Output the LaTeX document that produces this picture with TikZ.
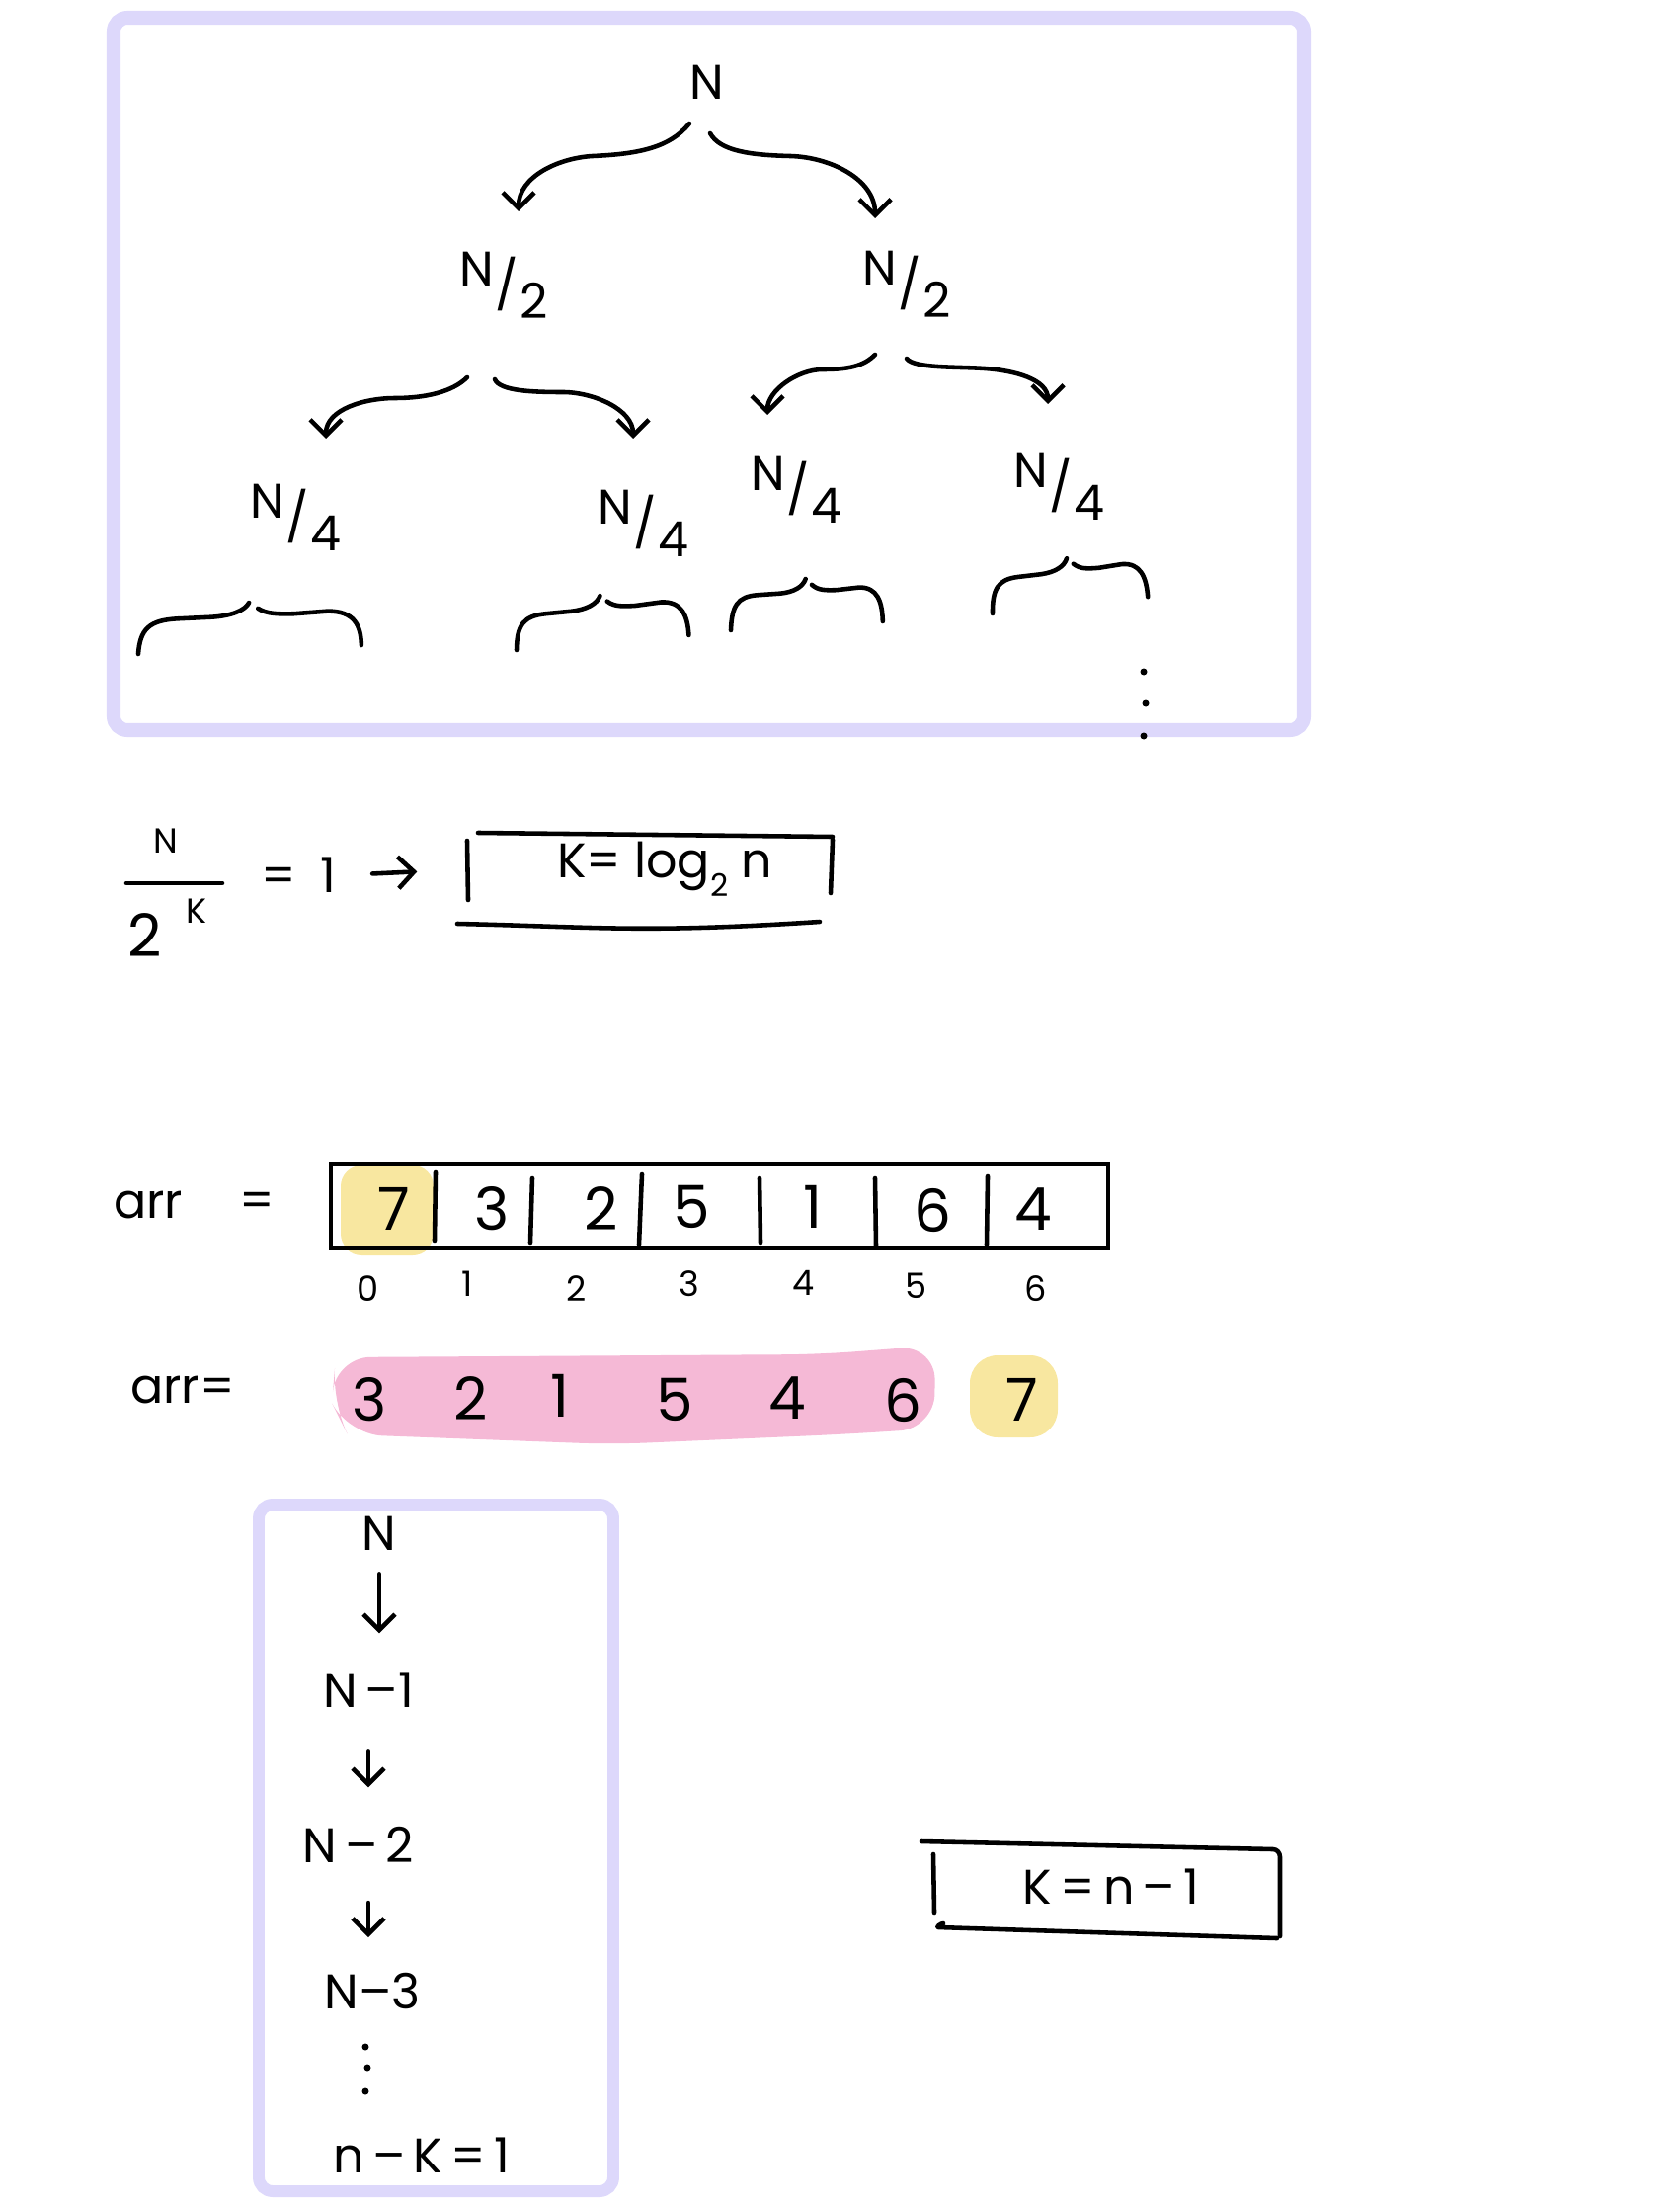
\documentclass[tikz,border=0pt]{standalone}
\usepackage{fontspec}
\setmainfont{Poppins}
\usepackage{xcolor}
\usepackage{tikz}
\usetikzlibrary{arrows.meta,positioning}
\definecolor{lav}{RGB}{221,216,251}
\definecolor{hlyellow}{RGB}{248,231,160}
\definecolor{hlpink}{RGB}{245,185,214}
\newcommand{\slfrac}[2]{\raisebox{.6ex}{#1}\kern.03em/\kern.03em\raisebox{-.6ex}{#2}}
% hand drawn brace: left end x, y, width, tilt
\newcommand{\handbrace}[4]{%
  \begin{scope}[shift={(#1,#2)}, rotate=#4, xscale=#3]
    \draw[hand] (0,0) .. controls (0.01,0.25) and (0.05,0.34) .. (0.18,0.35) -- (0.33,0.36) .. controls (0.42,0.37) and (0.48,0.42) .. (0.5,0.5);
    \draw[hand] (0.54,0.44) .. controls (0.58,0.38) and (0.63,0.38) .. (0.70,0.38) -- (0.85,0.40) .. controls (0.97,0.40) and (1.0,0.25) .. (1.0,0.05);
  \end{scope}}

\begin{document}
\begin{tikzpicture}[
    hand/.style={line width=1.3pt, line cap=round, line join=round},
    arr/.style={hand, -{Straight Barb[length=1.6mm,width=3.2mm]}},
    lbl/.style={inner sep=1pt, font=\fontsize{14}{17}\selectfont},
    small/.style={inner sep=1pt, font=\fontsize{10}{12}\selectfont},
    big/.style={inner sep=1pt, font=\fontsize{17}{20}\selectfont},
    frame/.style={draw=lav, line width=4pt, rounded corners=4pt}
  ]
  \useasboundingbox (0,0) rectangle (17,-22.32);

  % recursion tree
  \draw[frame] (1.15,-0.18) rectangle (13.20,-7.39);
  \node[lbl] (root) at (7.16,-0.83) {N};
  \node[lbl] (h1) at (5.10,-2.89) {\slfrac{N}{2}};
  \node[lbl] (h2) at (9.18,-2.88) {\slfrac{N}{2}};
  \node[lbl] (q1) at (2.99,-5.24) {\slfrac{N}{4}};
  \node[lbl] (q2) at (6.51,-5.30) {\slfrac{N}{4}};
  \node[lbl] (q3) at (8.06,-4.96) {\slfrac{N}{4}};
  \node[lbl] (q4) at (10.72,-4.93) {\slfrac{N}{4}};

  \draw[arr] ([shift={(-0.18,-0.42)}]root.center) .. controls +(-0.2,-0.25) and +(0.45,0.02) .. ++(-0.98,-0.33)
    .. controls +(-0.35,-0.02) and +(0,0.35) .. ([shift={(0.15,0.75)}]h1.center);
  \draw[arr] ([shift={(0.03,-0.52)}]root.center) .. controls +(0.1,-0.18) and +(-0.4,0.01) .. ++(0.81,-0.23)
    .. controls +(0.4,-0.01) and +(0,0.4) .. ([shift={(-0.32,0.67)}]h2.center);
  \draw[arr] ([shift={(-0.37,-0.93)}]h1.center) .. controls +(-0.15,-0.15) and +(0.3,0) .. ++(-0.73,-0.21)
    .. controls +(-0.3,0) and +(0,0.3) .. ([shift={(0.31,0.80)}]q1.center);
  \draw[arr] ([shift={(-0.09,-0.95)}]h1.center) .. controls +(0.05,-0.12) and +(-0.3,0) .. ++(0.69,-0.13)
    .. controls +(0.3,0) and +(0,0.3) .. ([shift={(-0.10,0.86)}]q2.center);
  \draw[arr] ([shift={(-0.32,-0.71)}]h2.center) .. controls +(-0.12,-0.12) and +(0.25,0) .. ++(-0.53,-0.15)
    .. controls +(-0.25,0) and +(0,0.25) .. ([shift={(-0.29,0.76)}]q3.center);
  \draw[arr] ([shift={(0,-0.75)}]h2.center) .. controls +(0.08,-0.1) and +(-0.3,0.02) .. ++(0.79,-0.10)
    .. controls +(0.3,-0.02) and +(0,0.25) .. ([shift={(-0.11,0.84)}]q4.center);

  \handbrace{1.40}{-6.62}{2.26}{1}
  \handbrace{5.23}{-6.58}{1.75}{3.3}
  \handbrace{7.40}{-6.38}{1.54}{1.5}
  \handbrace{10.05}{-6.21}{1.58}{4.3}
  \fill (11.58,-6.80) circle (0.035);
  \fill (11.60,-7.12) circle (0.035);
  \fill (11.58,-7.45) circle (0.035);

  % N / 2^K = 1
  \node[small] (fnum) at (1.68,-8.51) {N};
  \draw[hand] (1.28,-8.94) -- (2.25,-8.94);
  \node[big] (fden) at (1.47,-9.47) {2};
  \node[small] (fexp) at (1.99,-9.22) {K};
  \node[lbl] (eqone) at (3.02,-8.86) {=\hspace{0.5em}1};
  \node[lbl, minimum width=3.7cm, minimum height=0.7cm] (kbox) at (6.58,-8.80) {\hspace{3mm}K= log\raisebox{-.7ex}{\small 2} n};
  \draw[arr, shorten <=3.3mm, shorten >=5mm] (eqone.east) -- (kbox.west);
  \draw[hand] (4.73,-8.51) -- (4.74,-9.11);
  \draw[hand] (4.84,-8.43) -- (8.43,-8.47);
  \draw[hand] (8.43,-8.50) -- (8.41,-9.04);
  \draw[hand] (4.63,-9.35) .. controls (6.0,-9.38) and (6.5,-9.45) .. (8.30,-9.33);

  % array
  \node[lbl] (arr1) at (1.50,-12.20) {arr};
  \node[lbl] (eq1) at (2.60,-12.20) {=};
  \fill[hlyellow, rounded corners=6pt] (3.45,-11.79) rectangle (4.39,-12.70);
  \draw[line width=1.1pt] (3.35,-11.78) rectangle (11.22,-12.63);
  \draw[hand] (4.41,-11.86) -- (4.40,-12.56);
  \draw[hand] (5.39,-11.92) -- (5.37,-12.58);
  \draw[hand] (6.50,-11.88) -- (6.47,-12.60);
  \draw[hand] (7.69,-11.92) -- (7.70,-12.58);
  \draw[hand] (8.86,-11.92) -- (8.87,-12.62);
  \draw[hand] (10.00,-11.90) -- (9.99,-12.60);

  \node[big] (v0) at (3.99,-12.24) {7};
  \node[big] (v1) at (4.98,-12.24) {3};
  \node[big] (v2) at (6.09,-12.24) {2};
  \node[big] (v3) at (7.00,-12.22) {5};
  \node[big] (v4) at (8.23,-12.22) {1};
  \node[big] (v5) at (9.44,-12.26) {6};
  \node[big] (v6) at (10.46,-12.24) {4};

  \node[small] (i0) at (3.73,-13.05) {0};
  \node[small] (i1) at (4.73,-13.00) {1};
  \node[small] (i2) at (5.84,-13.05) {2};
  \node[small] (i3) at (6.98,-13.00) {3};
  \node[small] (i4) at (8.14,-12.99) {4};
  \node[small] (i5) at (9.28,-13.02) {5};
  \node[small] (i6) at (10.49,-13.05) {6};

  \node[lbl] (arr2) at (1.85,-14.07) {arr=};
  \fill[hlpink, rounded corners=10pt] (3.40,-13.74) -- (8.30,-13.71) -- (9.47,-13.62) -- (9.46,-14.46) -- (8.50,-14.52) -- (6.20,-14.62) -- (3.52,-14.52) -- (3.36,-14.20) -- cycle;
  \fill[hlyellow, rounded corners=8pt] (9.82,-13.72) rectangle (10.71,-14.55);
  \node[big] (p0) at (3.74,-14.17) {3};
  \node[big] (p1) at (4.77,-14.15) {2};
  \node[big] (p2) at (5.67,-14.13) {1};
  \node[big] (p3) at (6.83,-14.17) {5};
  \node[big] (p4) at (7.97,-14.15) {4};
  \node[big] (p5) at (9.14,-14.17) {6};
  \node[big] (p6) at (10.35,-14.17) {7};

  % N, N-1, N-2, ...
  \draw[frame, line width=3.4pt] (2.62,-15.23) rectangle (6.21,-22.18);
  \node[lbl] (c1) at (3.84,-15.52) {N};
  \node[lbl, below=1.15cm of c1, xshift=-1.1mm] (c2) {N\,\textendash1};
  \node[lbl, below=1.13cm of c2, xshift=-1mm] (c3) {N\,\textendash\,2};
  \node[lbl, below=1.03cm of c3, xshift=1.4mm] (c4) {N\textendash3};
  \node[lbl, below=1.22cm of c4, xshift=5mm] (c5) {n\,\textendash\,K\,=\,1};
  \draw[arr, shorten <=2mm, shorten >=3.5mm] (c1.south) -- (c1.south |- c2.north);
  \draw[arr, shorten <=4mm, shorten >=3.6mm] (c2.south) -- (c2.south |- c3.north);
  \draw[arr, shorten <=3.6mm, shorten >=3.2mm] ([xshift=1mm]c3.south) -- ([xshift=1mm]c3.south |- c4.north);
  \fill (3.70,-20.72) circle (0.035);
  \fill (3.72,-20.93) circle (0.035);
  \fill (3.70,-21.17) circle (0.035);

  % K = n - 1
  \node[lbl] (kn) at (11.25,-19.10) {K\,=\,n\,\textendash\,1};
  \draw[hand] (9.33,-18.64) -- (12.89,-18.72) to[out=0,in=90] (12.96,-18.80) -- (12.96,-19.60);
  \draw[hand] (9.45,-18.77) -- (9.46,-19.36);
  \draw[hand] (9.55,-19.47) to[out=180,in=180] (9.50,-19.51) -- (12.93,-19.62);
\end{tikzpicture}
\end{document}
